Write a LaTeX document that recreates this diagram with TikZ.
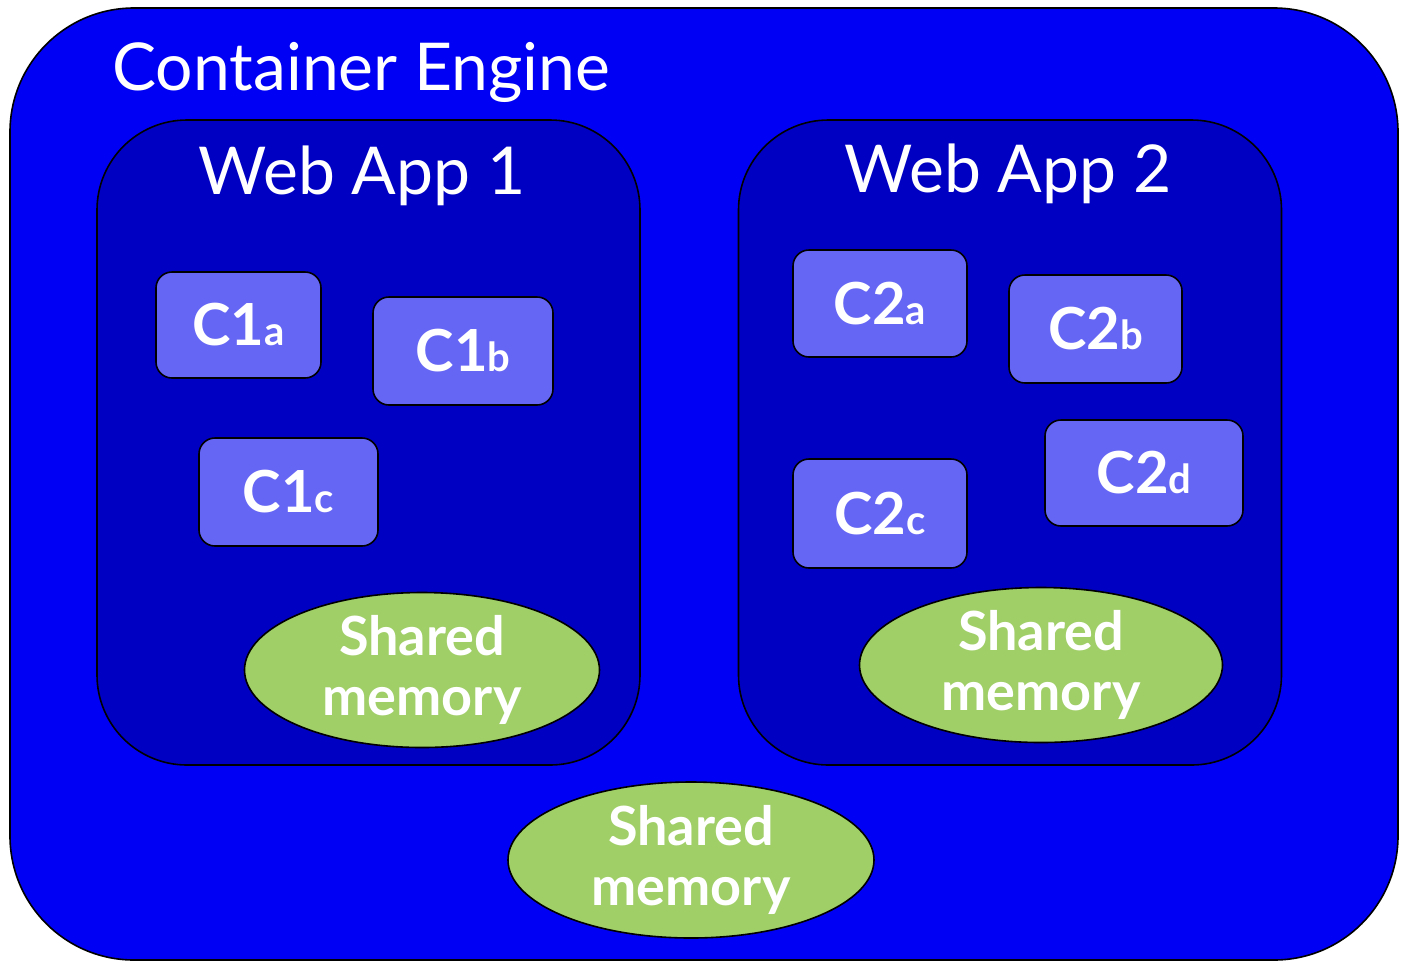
\documentclass[tikz,border=0pt]{standalone}
\usepackage{fontspec}
\setmainfont{Lato}
\usetikzlibrary{shapes.geometric}
\definecolor{outerblue}{RGB}{0,0,245}
\definecolor{innerblue}{RGB}{0,0,194}
\definecolor{compblue}{RGB}{102,102,245}
\definecolor{memgreen}{RGB}{160,206,103}
\tikzset{
  engine/.style={draw=black, line width=0.8pt, fill=outerblue, rounded corners=62pt, inner sep=0pt},
  webapp/.style={draw=black, line width=0.8pt, fill=innerblue, rounded corners=45pt, inner sep=0pt,
    minimum width=271.5pt, minimum height=322.5pt},
  comp/.style={draw=black, line width=0.8pt, fill=compblue, rounded corners=8pt, inner sep=0pt,
    text=white, font=\fontsize{29}{30}\selectfont\bfseries},
  mem/.style={ellipse, draw=black, line width=0.8pt, fill=memgreen, inner sep=0pt,
    text=white, align=center, font=\fontsize{27}{30}\selectfont\bfseries},
  title/.style={text=white, inner sep=0pt, font=\fontsize{33}{36}\selectfont},
}
\newcommand{\sub}[1]{{\fontsize{20}{20}\selectfont #1}}
\begin{document}
\begin{tikzpicture}[x=0.5pt,y=-0.5pt]
\useasboundingbox (0,0) rectangle (1404,966);
\node[engine, minimum width=694pt, minimum height=476pt] (engine) at (704,484) {};
\node[title, anchor=base west] (enginelabel) at (112,90) {Container Engine};
\node[webapp] (app1) at (368.5,442.5) {};
\node[webapp] (app2) at (1010,442.5) {};
\node[title, anchor=base] (app1label) at (362,194) {Web App 1};
\node[title, anchor=base] (app2label) at (1008,192) {Web App 2};
% components
\node[comp, minimum width=82.5pt, minimum height=53pt] (c1a) at (238.5,325) {C1\sub{a}};
\node[comp, minimum width=90pt, minimum height=54pt] (c1b) at (463,351) {C1\sub{b}};
\node[comp, minimum width=89.5pt, minimum height=54pt] (c1c) at (288.5,492) {C1\sub{c}};
\node[comp, minimum width=87pt, minimum height=53.5pt] (c2a) at (880,303.5) {C2\sub{a}};
\node[comp, minimum width=86.5pt, minimum height=54pt] (c2b) at (1095.5,329) {C2\sub{b}};
\node[comp, minimum width=87pt, minimum height=54.5pt] (c2c) at (880,513.5) {C2\sub{c}};
\node[comp, minimum width=99pt, minimum height=53pt] (c2d) at (1144,473) {C2\sub{d}};
% shared memory
\node[mem, minimum width=177.5pt, minimum height=77.5pt] (mem1) at (422,670) {Shared\\memory};
\node[mem, minimum width=181.5pt, minimum height=77.5pt] (mem2) at (1041,665) {Shared\\memory};
\node[mem, minimum width=183pt, minimum height=78pt] (mem3) at (691,860) {Shared\\memory};
\end{tikzpicture}
\end{document}
